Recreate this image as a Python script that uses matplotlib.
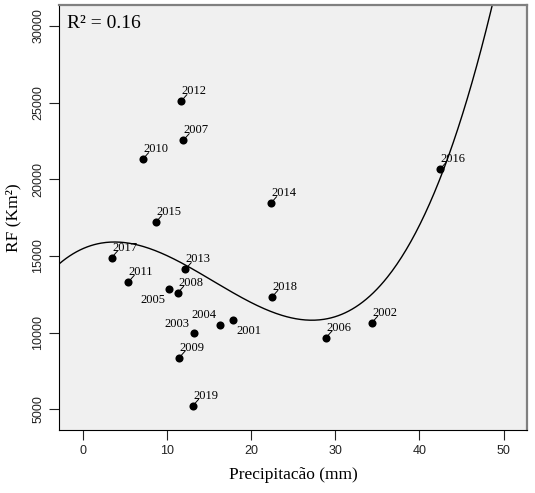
import numpy as np
import matplotlib
matplotlib.use("Agg")
import matplotlib.pyplot as plt

# -------------------------------------------------------
#        RF x Precipitacao  (scatter + cubic fit)
# -------------------------------------------------------

years = ['2001', '2002', '2003', '2004', '2005', '2006', '2007', '2008', '2009', '2010',
         '2011', '2012', '2013', '2014', '2015', '2016', '2017', '2018', '2019']
precip = [17.85, 34.32, 13.25, 16.34, 10.25, 28.9, 11.95, 11.28, 11.47, 7.13,
          5.42, 11.67, 12.19, 22.33, 8.67, 42.43, 3.44, 22.48, 13.06]
rf = [10850, 10630, 10000, 10500, 12820, 9670, 22540, 12580, 8370, 21300,
      13300, 25080, 14130, 18430, 17190, 20650, 14890, 12320, 5215]

x_ticks = [0, 10, 20, 30, 40, 50]
y_ticks = [5000, 10000, 15000, 20000, 25000, 30000]

# label placement (offset points, alignment) - default is above right
label_pos = {
    '2005': (-2.9, -10.0, 'right'),
    '2003': (-3.1, 3.8, 'right'),
    '2004': (-2.4, 4.8, 'right'),
    '2001': (2.7, -10.6, 'left'),
}

x = np.array(precip)
y = np.array(rf)
coef = np.polyfit(x, y, 3)
fit = np.poly1d(coef)
r2 = 1 - np.sum((y - fit(x)) ** 2) / np.sum((y - y.mean()) ** 2)
print("R2 =", r2, coef)

fig = plt.figure(figsize=(5.35, 4.93), dpi=100)
ax = fig.add_axes([59 / 535, 1 - 430 / 493, 468 / 535, 425 / 493])
ax.set_facecolor('#f0f0f0')

xlim = (-2.81, 52.77)
ylim = (3650, 31360)

xx = np.linspace(xlim[0], xlim[1], 400)
ax.plot(xx, fit(xx), color='black', lw=1.0, zorder=2)
ax.scatter(x, y, s=34, color='black', zorder=3, linewidths=0)

for yr, px, py in zip(years, precip, rf):
    if yr in label_pos:
        dx, dy, ha = label_pos[yr]
        ax.annotate(yr, (px, py), xytext=(dx, dy), textcoords='offset points',
                    ha=ha, va='baseline', fontsize=9, family='Liberation Serif')
    else:
        ax.annotate(yr, (px, py), xytext=(0.4, 5.0), textcoords='offset points',
                    ha='left', va='baseline', fontsize=9, family='Liberation Serif')
        ax.annotate('', (px, py), xytext=(4.3, 4.8), textcoords='offset points',
                    arrowprops=dict(arrowstyle='-', lw=0.7, color='black',
                                    shrinkA=0, shrinkB=2.2))

ax.text(0.017, 0.945, 'R\u00b2 = 0.16', transform=ax.transAxes, fontsize=14,
        family='Liberation Serif', va='baseline', ha='left')

ax.set_xlim(xlim)
ax.set_ylim(ylim)
ax.set_xticks(x_ticks)
ax.set_yticks(y_ticks)
ax.tick_params(direction='out', length=7.5, width=0.8, pad=3, labelsize=9,
               labelcolor='#222222', color='#222222')
for lab in ax.get_xticklabels() + ax.get_yticklabels():
    lab.set_family('Liberation Sans')
plt.setp(ax.get_yticklabels(), rotation=90, va='center')

ax.spines['left'].set_linewidth(0.8)
ax.spines['bottom'].set_linewidth(0.8)
for s in ['top', 'right']:
    ax.spines[s].set_color('#808080')
    ax.spines[s].set_linewidth(1.6)

ax.set_xlabel('Precipitac\u00e3o (mm)', fontsize=12.5, family='Liberation Serif')
ax.set_ylabel('RF (Km\u00b2)', fontsize=12.5, family='Liberation Serif')
ax.xaxis.set_label_coords(0.5, -0.087)
ax.yaxis.set_label_coords(-0.081, 0.5)

fig.savefig('out.png', dpi=100, facecolor='white')
